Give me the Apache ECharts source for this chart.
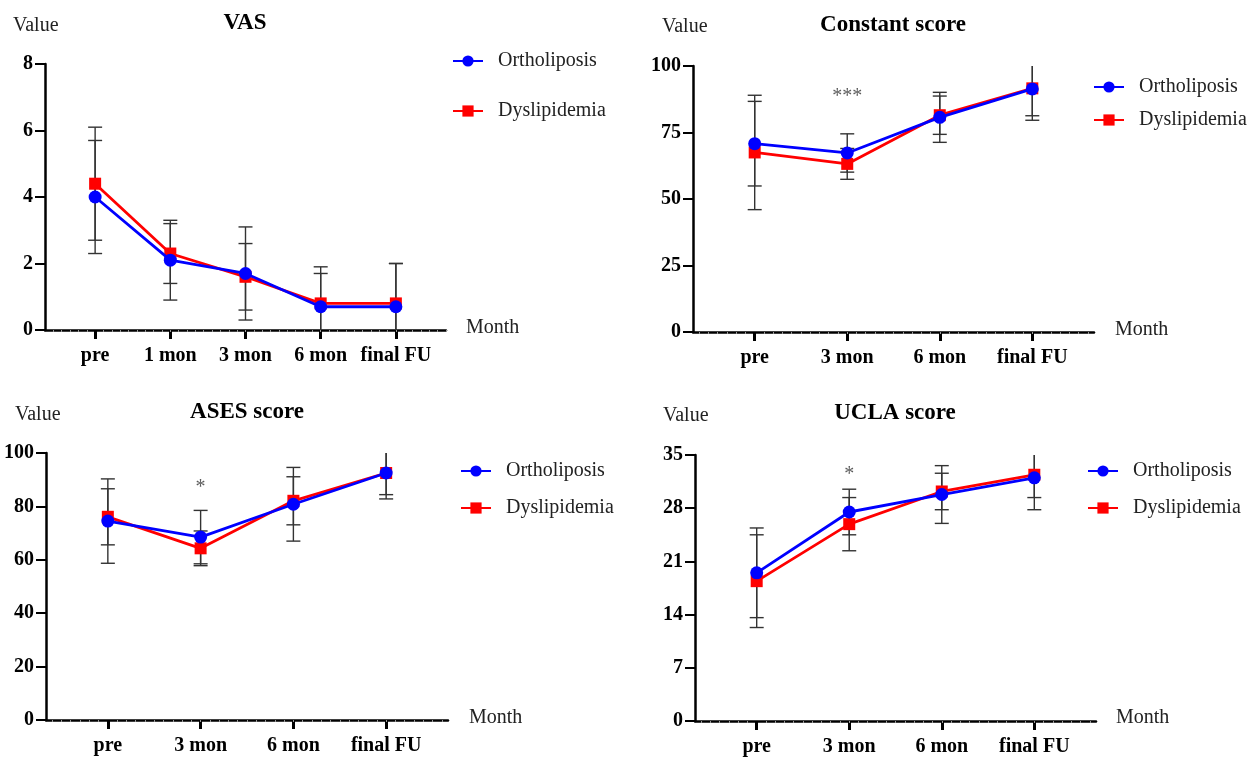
<!DOCTYPE html>
<html>
<head>
<meta charset="utf-8">
<script src="https://cdn.jsdelivr.net/npm/echarts@6/dist/echarts.min.js"></script>
<style>
  html, body { margin: 0; padding: 0; background: #fff; }
  #main { width: 1259px; height: 757px; }
</style>
</head>
<body>
<div id="main"></div>
<script>
// --- data (mean and SD per time point) ---
const vasCats = ['pre', '1 mon', '3 mon', '6 mon', 'final FU'];
const vasOrthoMean = [4.0, 2.1, 1.7, 0.7, 0.7];
const vasOrthoSd = [1.7, 1.2, 1.4, 1.0, 1.3];
const vasDysMean = [4.4, 2.3, 1.6, 0.8, 0.8];
const vasDysSd = [1.7, 0.9, 1.0, 1.1, 1.2];

const constCats = ['pre', '3 mon', '6 mon', 'final FU'];
const constOrthoMean = [70.8, 67.3, 80.7, 91.4];
const constOrthoSd = [15.9, 7.2, 9.4, 11.8];
const constDysMean = [67.5, 63.2, 81.5, 91.6];
const constDysSd = [21.5, 5.8, 7.2, 10.3];

const asesCats = ['pre', '3 mon', '6 mon', 'final FU'];
const asesOrthoMean = [74.5, 68.5, 80.8, 92.5];
const asesOrthoSd = [15.8, 10.0, 13.8, 9.7];
const asesDysMean = [76.1, 64.3, 82.1, 92.5];
const asesDysSd = [10.5, 6.5, 9.0, 8.1];

const uclaCats = ['pre', '3 mon', '6 mon', 'final FU'];
const uclaOrthoMean = [19.5, 27.5, 29.8, 32.0];
const uclaOrthoSd = [5.9, 3.0, 3.8, 4.2];
const uclaDysMean = [18.4, 25.9, 30.2, 32.4];
const uclaDysSd = [6.1, 3.5, 2.4, 3.0];

// significance marks: [category index, y value, text]
const constSig = [[1, 88.3, '***']];
const asesSig = [[1, 87, '*']];
const uclaSig = [[1, 32.4, '*']];

const yMax = [8, 100, 100, 35];
const yStep = [2, 25, 20, 7];

const FONT = '"Liberation Serif", "Times New Roman", serif';
const BLUE = '#0000ff';
const RED = '#ff0000';

const panels = [
  { title: 'VAS', cats: vasCats, om: vasOrthoMean, os: vasOrthoSd, dm: vasDysMean, ds: vasDysSd, sig: [],
    grid: { left: 45, top: 64, width: 401, height: 266 }, minorStep: 1 / 9,
    titlePos: [245, 23], valuePos: [13, 26], monthPos: [466, 328],
    legend: { left: 452, top: 51, gap: 30 } },
  { title: 'Constant score', cats: constCats, om: constOrthoMean, os: constOrthoSd, dm: constDysMean, ds: constDysSd, sig: constSig,
    grid: { left: 693, top: 66, width: 401, height: 266 }, minorStep: 1 / 10,
    titlePos: [893, 25], valuePos: [662, 27], monthPos: [1115, 330],
    legend: { left: 1093, top: 77, gap: 13 } },
  { title: 'ASES score', cats: asesCats, om: asesOrthoMean, os: asesOrthoSd, dm: asesDysMean, ds: asesDysSd, sig: asesSig,
    grid: { left: 46, top: 453, width: 402, height: 267 }, minorStep: 1 / 10,
    titlePos: [247, 412], valuePos: [15, 415], monthPos: [469, 718],
    legend: { left: 460, top: 461, gap: 17 } },
  { title: 'UCLA score', cats: uclaCats, om: uclaOrthoMean, os: uclaOrthoSd, dm: uclaDysMean, ds: uclaDysSd, sig: uclaSig,
    grid: { left: 695, top: 455, width: 401, height: 266 }, minorStep: 1 / 10,
    titlePos: [895, 413], valuePos: [663, 416], monthPos: [1116, 718],
    legend: { left: 1087, top: 461, gap: 17 } }
];

const grids = [], xAxes = [], yAxes = [], series = [], legends = [], graphics = [];

function errorBar(params, api) {
  const x = api.value(0);
  const lo = api.coord([x, api.value(1)]);
  const hi = api.coord([x, api.value(2)]);
  const w = 7;
  const style = { stroke: '#333', lineWidth: 1.4 };
  return {
    type: 'group',
    children: [
      { type: 'line', shape: { x1: lo[0], y1: lo[1], x2: hi[0], y2: hi[1] }, style },
      { type: 'line', shape: { x1: hi[0] - w, y1: hi[1], x2: hi[0] + w, y2: hi[1] }, style },
      { type: 'line', shape: { x1: lo[0] - w, y1: lo[1], x2: lo[0] + w, y2: lo[1] }, style }
    ]
  };
}

panels.forEach((p, i) => {
  const n = p.cats.length;
  const xMin = -2 / 3, xMax = n - 1 + 2 / 3;
  const idx = p.cats.map((c, k) => k);
  grids.push(p.grid);

  xAxes.push({
    gridIndex: i, type: 'value', min: xMin, max: xMax,
    axisLine: { show: true, onZero: false, lineStyle: { color: '#000', width: 2.5 } },
    axisTick: { show: true, length: 9, customValues: idx, lineStyle: { color: '#000', width: 3 } },
    axisLabel: { show: true, customValues: idx, margin: 16, formatter: v => p.cats[Math.round(v)],
      fontFamily: FONT, fontWeight: 'bold', fontSize: 20, color: '#000' },
    splitLine: { show: false }
  });

  // decorative minor ticks under the x axis
  const minor = [];
  for (let v = p.minorStep; v <= xMax + 1e-9; v += p.minorStep) minor.push(v);
  for (let v = -p.minorStep; v >= xMin + 1e-3; v -= p.minorStep) minor.push(v);
  xAxes.push({
    gridIndex: i, type: 'value', min: xMin, max: xMax, position: 'bottom',
    axisLine: { show: false, onZero: false },
    axisTick: { show: true, length: 2, customValues: minor, lineStyle: { color: '#999', width: 1 } },
    axisLabel: { show: false },
    splitLine: { show: false }
  });
  const xi = 2 * i;

  yAxes.push({
    gridIndex: i, type: 'value', min: 0, max: yMax[i], interval: yStep[i],
    axisLine: { show: true, onZero: false, lineStyle: { color: '#000', width: 2.5 } },
    axisTick: { show: true, length: 10, lineStyle: { color: '#000', width: 2 } },
    axisLabel: { margin: 12, fontFamily: FONT, fontWeight: 'bold', fontSize: 20, color: '#000' },
    splitLine: { show: false }
  });

  const groups = [
    { name: 'Dyslipidemia', mean: p.dm, sd: p.ds, color: RED, symbol: 'rect', size: 12 },
    { name: 'Ortholiposis', mean: p.om, sd: p.os, color: BLUE, symbol: 'circle', size: 13 }
  ];
  groups.forEach((g, gi) => {
    series.push({
      type: 'custom', xAxisIndex: xi, yAxisIndex: i, clip: true, silent: true, z: 2,
      renderItem: errorBar, encode: { x: 0, y: [1, 2] },
      data: g.mean.map((m, k) => [k, m - g.sd[k], m + g.sd[k]])
    });
    series.push({
      name: g.name, type: 'line', xAxisIndex: xi, yAxisIndex: i, z: 3 + gi,
      symbol: g.symbol, symbolSize: g.size, showSymbol: true,
      lineStyle: { color: g.color, width: 2.8 },
      itemStyle: { color: g.color },
      data: g.mean.map((m, k) => [k, m])
    });
  });

  if (p.sig.length) {
    series.push({
      type: 'scatter', xAxisIndex: xi, yAxisIndex: i, silent: true, symbolSize: 1,
      itemStyle: { color: 'transparent' },
      label: { show: true, position: 'inside', formatter: '{b}', color: '#333',
        fontFamily: FONT, fontSize: 20 },
      data: p.sig.map(s => ({ name: s[2], value: [s[0], s[1]] }))
    });
  }

  legends.push({
    left: p.legend.left, top: p.legend.top, orient: 'vertical', padding: 0,
    itemGap: p.legend.gap, itemWidth: 30, itemHeight: 14,
    data: ['Ortholiposis', 'Dyslipidemia'],
    textStyle: { fontFamily: FONT, fontSize: 20, color: '#222', padding: [0, 0, 0, 10] }
  });

  graphics.push(
    { type: 'text', x: p.titlePos[0], y: p.titlePos[1],
      style: { text: p.title, font: 'bold 23px ' + FONT, fill: '#000', textAlign: 'center', textVerticalAlign: 'middle' } },
    { type: 'text', x: p.valuePos[0], y: p.valuePos[1],
      style: { text: 'Value', font: '20px ' + FONT, fill: '#222', textAlign: 'left', textVerticalAlign: 'middle' } },
    { type: 'text', x: p.monthPos[0], y: p.monthPos[1],
      style: { text: 'Month', font: '20px ' + FONT, fill: '#222', textAlign: 'left', textVerticalAlign: 'middle' } }
  );
});

const chart = echarts.init(document.getElementById('main'));
chart.setOption({
  animation: false,
  backgroundColor: '#fff',
  grid: grids,
  xAxis: xAxes,
  yAxis: yAxes,
  legend: legends,
  graphic: graphics,
  series: series
});
</script>
</body>
</html>
